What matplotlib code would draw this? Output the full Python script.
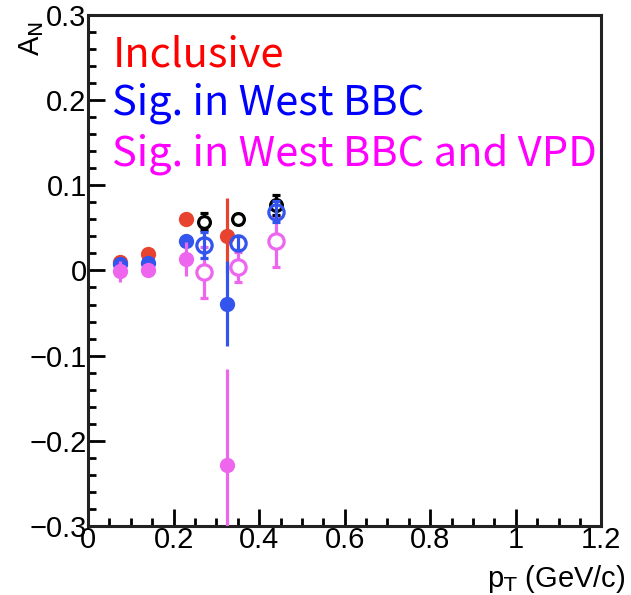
import numpy as np
import matplotlib.pyplot as plt
from matplotlib.ticker import MultipleLocator

# A_N mot p_T, tre utvalg (fylte) + tilhørende åpne punkter
x_lo = [0.075, 0.14, 0.23, 0.325]
x_hi = [0.27, 0.35, 0.44]

incl_y = [0.010, 0.019, 0.060, 0.041]
incl_err = [0.004, 0.004, 0.006, 0.044]

west_y = [0.007, 0.009, 0.035, -0.039]
west_err = [0.004, 0.004, 0.008, 0.050]

vpd_y = [-0.001, 0.001, 0.013, -0.228]
vpd_err = [0.012, 0.006, 0.020, 0.112]

incl_hi_y = [0.057, 0.060, 0.077]
incl_hi_err = [0.010, 0.006, 0.012]

west_hi_y = [0.030, 0.032, 0.069]
west_hi_err = [0.015, 0.008, 0.012]

vpd_hi_y = [-0.002, 0.004, 0.034]
vpd_hi_err = [0.030, 0.018, 0.030]

red = "#e8432f"
blue = "#3355ee"
pink = "#ee66ee"

fig = plt.figure(figsize=(6.31, 5.95), dpi=100)
ax = fig.add_axes([0.1395, 0.116, 0.8135, 0.859])

ms = 11
kw = dict(fmt="o", markersize=ms, capsize=3, elinewidth=2.3, capthick=2.3)

# åpne punkter
ax.errorbar(x_hi, incl_hi_y, yerr=incl_hi_err, color="black", mfc="white",
            mew=2.3, markersize=8.5, fmt="o", capsize=3, elinewidth=2.3, capthick=2.3, zorder=3)
ax.errorbar(x_hi, west_hi_y, yerr=west_hi_err, color=blue, mfc="none", mew=2.3, zorder=4, **kw)
ax.errorbar(x_hi, vpd_hi_y, yerr=vpd_hi_err, color=pink, mfc="white", mew=2.3, zorder=2, **kw)

# fylte punkter
ax.errorbar(x_lo, incl_y, yerr=incl_err, color=red, mew=0, zorder=3, **kw)
ax.errorbar(x_lo, west_y, yerr=west_err, color=blue, mew=0, zorder=4, **kw)
ax.errorbar(x_lo, vpd_y, yerr=vpd_err, color=pink, mew=0, zorder=5, **kw)

ax.set_xlim(0, 1.2)
ax.set_ylim(-0.3, 0.3)
ax.set_xticks([0, 0.2, 0.4, 0.6, 0.8, 1.0, 1.2])
ax.set_xticklabels(["0", "0.2", "0.4", "0.6", "0.8", "1", "1.2"])
ax.set_yticks([-0.3, -0.2, -0.1, 0, 0.1, 0.2, 0.3])
ax.set_yticklabels(["\u22120.3", "\u22120.2", "\u22120.1", "0", "0.1", "0.2", "0.3"])
ax.xaxis.set_minor_locator(MultipleLocator(0.05))
ax.yaxis.set_minor_locator(MultipleLocator(0.02))
ax.tick_params(which="both", direction="in", width=2, top=False, right=False,
               labelsize=21, labelfontfamily="Liberation Sans")
ax.tick_params(axis="x", pad=0)
ax.tick_params(axis="y", pad=1)
ax.tick_params(which="major", length=12)
ax.tick_params(which="minor", length=6)
for s in ax.spines.values():
    s.set_linewidth(2.2)
    s.set_color("#222222")

fig.text(0.992, 0.0, r"p$_{\rm T}$ (GeV/c)", ha="right", va="bottom",
         fontsize=21, family="Liberation Sans")
fig.text(0.05, 0.935, r"A$_{\rm N}$", rotation=90, ha="center", va="center",
         fontsize=21, family="Liberation Sans")

tx = 0.178
lfont = "Noto Sans CJK KR"
fig.text(tx, 0.908, "Inclusive", color="red", fontsize=30, family=lfont,
         weight="light", va="center")
fig.text(tx, 0.826, "Sig. in West BBC", color="blue", fontsize=30, family=lfont,
         weight="light", va="center")
fig.text(tx, 0.740, "Sig. in West BBC and VPD", color="magenta", fontsize=30,
         family=lfont, weight="light", va="center")

fig.savefig("out.png", dpi=100)
